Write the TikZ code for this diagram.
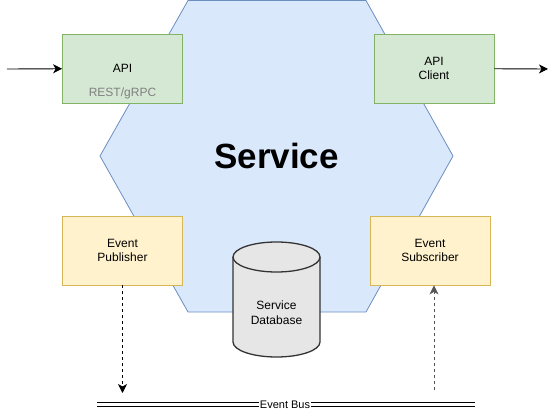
\documentclass[tikz,border=0pt]{standalone}
\usepackage{fontspec}
\setmainfont{Liberation Sans}
\usetikzlibrary{arrows.meta}

\definecolor{hexfill}{HTML}{DAE8FC}
\definecolor{hexline}{HTML}{6C8EBF}
\definecolor{apifill}{HTML}{D5E8D4}
\definecolor{apiline}{HTML}{82B366}
\definecolor{evfill}{HTML}{FFF2CC}
\definecolor{evline}{HTML}{D6B656}
\definecolor{dbfill}{HTML}{E6E6E6}
\definecolor{dbline}{HTML}{333333}
\definecolor{protogray}{HTML}{808080}
\definecolor{subgray}{HTML}{555555}

\begin{document}
\begin{tikzpicture}[x=1pt,y=-1pt,
    box/.style={draw, line width=0.8pt, minimum width=120pt, minimum height=69pt, align=center, inner sep=0pt},
    apibox/.style={box, fill=apifill, draw=apiline},
    evbox/.style={box, fill=evfill, draw=evline},
    dbend/.style={start angle=#1, delta angle=180, x radius=43.5pt, y radius=15pt},
    flow/.style={line width=0.9pt, -{Stealth[length=9pt,width=9pt,inset=2.5pt]}}]
    \begin{scope}[every node/.style={font=\fontsize{12}{14.5}\selectfont}]

\useasboundingbox (0,0) rectangle (558,412);

\filldraw [fill=hexfill, draw=hexline, line width=0.8pt] (188,0.5) -- (366,0.5) -- (453,156) -- (366,312) -- (188,312) -- (100,156) -- cycle;

\filldraw [fill=dbfill, draw=dbline, line width=1.3pt] (233,257) -- (233,342) arc[dbend=180] -- (320,257) arc[dbend=0] -- cycle;
\draw [dbline, line width=1.3pt] (233,257) arc[dbend=180];

\node[apibox] (api_in)     at (122.5,68.5) {API};
\node[text=protogray] (api_proto) at (122.5,93.5) {REST/gRPC};
\node[apibox] (api_out)    at (434.0,68.5) {API\\Client};
\node[evbox]  (event_pub)  at (122.5,250.5) {Event\\Publisher};
\node[evbox]  (event_sub)  at (430.0,250.5) {Event\\Subscriber};

\node[font=\fontsize{35}{40}\selectfont\bfseries] (service) at (276.5,156) {Service};
\node[align=center] (db_label) at (276.5,312.5) {Service\\Database};

\coordinate (api_src)    at (7,69);
\coordinate (client_dst) at (548,69);
\coordinate (pub_dst)    at (122.5,393);
\coordinate (sub_src)    at (434,390);
\coordinate (bus_l)      at (97,404.7);
\coordinate (bus_r)      at (475,404.7);

\draw [flow] (api_src) -- (api_in);
\draw [flow] (api_out) -- (client_dst);
\draw [flow, dashed] (event_pub) -- (pub_dst);
\draw [flow, dashed, draw=subgray] (sub_src) -- (sub_src |- event_sub.south);

\draw [double, double distance=3.5pt, line width=1pt] (bus_l) -- (bus_r);
\node[fill=white, inner sep=1pt, font=\fontsize{11}{12}\selectfont] (bus) at (285,405) {Event Bus};

    \end{scope}
\end{tikzpicture}
\end{document}
